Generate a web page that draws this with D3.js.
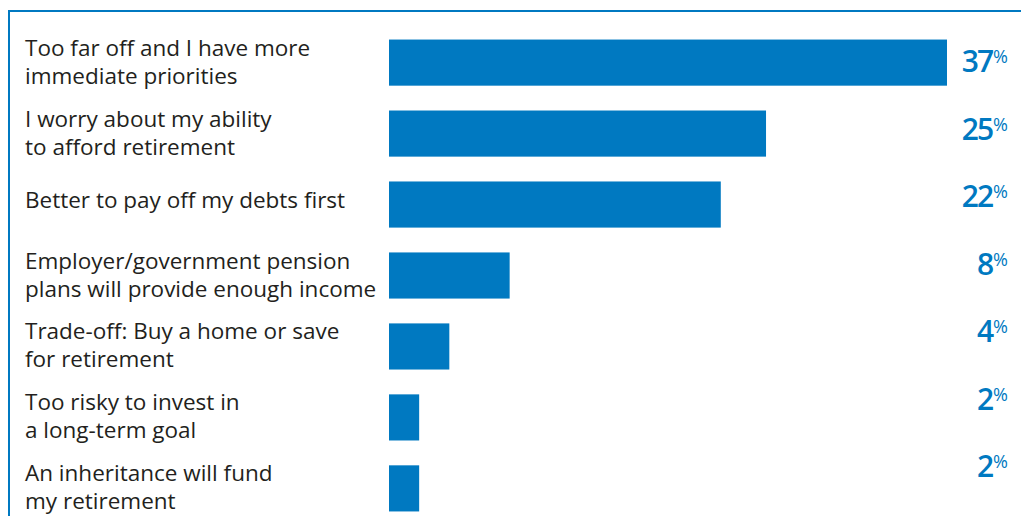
<!DOCTYPE html>
<html><head><meta charset="utf-8">
<script src="https://cdn.jsdelivr.net/npm/d3@7"></script>
<style>
html,body{margin:0;padding:0;background:#fff;}
svg{display:block;}
</style></head>
<body>
<svg id="chart" width="1021" height="516"></svg>
<script>
const categories = [
  ["Too far off and I have more", "immediate priorities"],
  ["I worry about my ability", "to afford retirement"],
  ["Better to pay off my debts first"],
  ["Employer/government pension", "plans will provide enough income"],
  ["Trade-off: Buy a home or save", "for retirement"],
  ["Too risky to invest in", "a long-term goal"],
  ["An inheritance will fund", "my retirement"]
];
const values = [37, 25, 22, 8, 4, 2, 2];
const valueLabels = ["37", "25", "22", "8", "4", "2", "2"];

const W = 1021, H = 516;
const blue = "#0079c1";
const svg = d3.select("#chart");

// frame
svg.append("line").attr("x1", 8).attr("x2", W).attr("y1", 11).attr("y2", 11)
  .attr("stroke", blue).attr("stroke-width", 2);
svg.append("line").attr("x1", 9).attr("x2", 9).attr("y1", 10).attr("y2", H)
  .attr("stroke", blue).attr("stroke-width", 2);

const idx = d3.range(values.length);
const y = d3.scaleBand().domain(idx).range([36, 515]).paddingInner(0.35).paddingOuter(0.05);
const x = d3.scaleLinear().domain([0, 37]).range([389, 947]);
const yVal = d3.scalePoint().domain(idx).range([62, 467]);

svg.append("g").selectAll("rect").data(idx).join("rect")
  .attr("x", x(0)).attr("y", i => y(i)).attr("width", i => x(values[i]) - x(0))
  .attr("height", y.bandwidth()).attr("fill", blue);

const lab = svg.append("g").attr("font-family", "'Open Sans', sans-serif")
  .attr("font-size", 22.5).attr("font-weight", 500).attr("fill", "#231f20");
idx.forEach(i => {
  const lines = categories[i];
  const c = y(i) + y.bandwidth() / 2;
  const lh = 28;
  const start = c - (lines.length - 1) * lh / 2 + (lines.length === 1 ? 3 : 7);
  lines.forEach((t, k) => {
    lab.append("text").attr("x", 25).attr("y", start + k * lh).text(t);
  });
});

const vg = svg.append("g").attr("font-family", "'Open Sans', sans-serif").attr("fill", blue);
idx.forEach(i => {
  const t = vg.append("text").attr("x", 1008).attr("y", yVal(i) + 10)
    .attr("text-anchor", "end");
  t.append("tspan").attr("font-size", 30).attr("font-weight", 600)
    .attr("letter-spacing", -2).text(valueLabels[i]);
  t.append("tspan").attr("font-size", 18).attr("dx", 1).attr("dy", -9).text("%");
});
</script>
</body></html>
